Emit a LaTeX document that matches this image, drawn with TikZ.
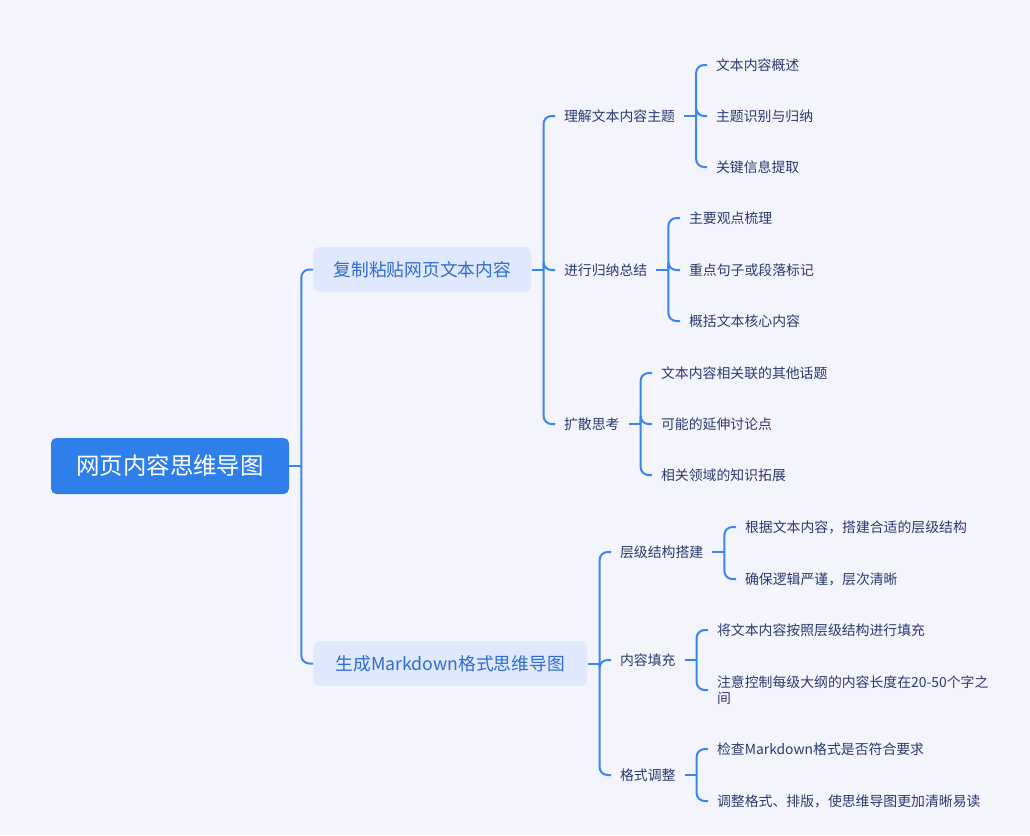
\documentclass[tikz,border=0pt]{standalone}
\usepackage{fontspec}
\setmainfont{Noto Sans CJK SC}
\definecolor{bgc}{HTML}{F4F5FC}
\definecolor{connc}{HTML}{3A86F0}
\definecolor{rootc}{HTML}{2F7FEA}
\definecolor{lonefill}{HTML}{DFE8FC}
\definecolor{lonetext}{HTML}{2D6CD2}
\definecolor{leaftext}{HTML}{2A3A6E}
\tikzset{
  conn/.style={draw=connc, line width=1.5pt},
  rc/.style={rounded corners=6pt},
  rootbox/.style={fill=rootc, text=white, rounded corners=4pt, minimum width=178.5pt, minimum height=42pt, inner sep=0pt, font=\fontsize{17.6}{20}\selectfont},
  lonebox/.style={fill=lonefill, text=lonetext, rounded corners=5pt, minimum height=33.75pt, inner sep=0pt, anchor=west, font=\fontsize{13.3}{16}\selectfont},
  leaf/.style={text=leaftext, anchor=west, inner xsep=6.6pt, inner ysep=2pt, font=\fontsize{10.4}{12.5}\selectfont, align=left},
}
\begin{document}
\begin{tikzpicture}[x=0.75pt,y=-0.75pt]
\fill[bgc] (0,0) rectangle (1030,835);
% root
\node[rootbox] (root) at (170,466) {网页内容思维导图};
% level 1
\node[lonebox, minimum width=163.5pt] (c1) at (313,269.5) {复制粘贴网页文本内容};
\node[lonebox, minimum width=205.5pt] (c2) at (313,663.5) {生成Markdown格式思维导图};
% level 2
\node[leaf] (a1) at (555,116) {理解文本内容主题};
\node[leaf] (a2) at (555,270) {进行归纳总结};
\node[leaf] (a3) at (555,424) {扩散思考};
\node[leaf] (b1) at (611,552) {层级结构搭建};
\node[leaf] (b2) at (611,660) {内容填充};
\node[leaf] (b3) at (611,775) {格式调整};
% level 3
\node[leaf] (a11) at (707,65) {文本内容概述};
\node[leaf] (a12) at (707,116) {主题识别与归纳};
\node[leaf] (a13) at (707,167) {关键信息提取};
\node[leaf] (a21) at (680,218) {主要观点梳理};
\node[leaf] (a22) at (680,270) {重点句子或段落标记};
\node[leaf] (a23) at (680,321) {概括文本核心内容};
\node[leaf] (a31) at (652,373) {文本内容相关联的其他话题};
\node[leaf] (a32) at (652,424) {可能的延伸讨论点};
\node[leaf] (a33) at (652,475) {相关领域的知识拓展};
\node[leaf] (b11) at (736,527) {根据文本内容，搭建合适的层级结构};
\node[leaf] (b12) at (736,579) {确保逻辑严谨，层次清晰};
\node[leaf] (b21) at (708,630) {将文本内容按照层级结构进行填充};
\node[leaf] (b22) at (708,690) {注意控制每级大纲的内容长度在20-50个字之\\间};
\node[leaf] (b31) at (708,749) {检查Markdown格式是否符合要求};
\node[leaf] (b32) at (708,801) {调整格式、排版，使思维导图更加清晰易读};
% connectors
\draw[conn] (root.east) -- ++(12,0) coordinate (j0);
\foreach \c in {c1,c2} \draw[conn,rc] (j0) |- (\c.west);
\draw[conn] (c1.east) -- ++(12,0) coordinate (j1);
\foreach \c in {a1,a2,a3} \draw[conn,rc] (j1) |- (\c.west);
\draw[conn] (c2.east) -- ++(12,0) coordinate (j2);
\foreach \c in {b1,b2,b3} \draw[conn,rc] (j2) |- (\c.west);
\draw[conn] (a1.east) -- ++(12,0) coordinate (ja1);
\foreach \c in {a11,a12,a13} \draw[conn,rc] (ja1) |- (\c.west);
\draw[conn] (a2.east) -- ++(12,0) coordinate (ja2);
\foreach \c in {a21,a22,a23} \draw[conn,rc] (ja2) |- (\c.west);
\draw[conn] (a3.east) -- ++(12,0) coordinate (ja3);
\foreach \c in {a31,a32,a33} \draw[conn,rc] (ja3) |- (\c.west);
\draw[conn] (b1.east) -- ++(12,0) coordinate (jb1);
\foreach \c in {b11,b12} \draw[conn,rc] (jb1) |- (\c.west);
\draw[conn] (b2.east) -- ++(12,0) coordinate (jb2);
\foreach \c in {b21,b22} \draw[conn,rc] (jb2) |- (\c.west);
\draw[conn] (b3.east) -- ++(12,0) coordinate (jb3);
\foreach \c in {b31,b32} \draw[conn,rc] (jb3) |- (\c.west);
\end{tikzpicture}
\end{document}
